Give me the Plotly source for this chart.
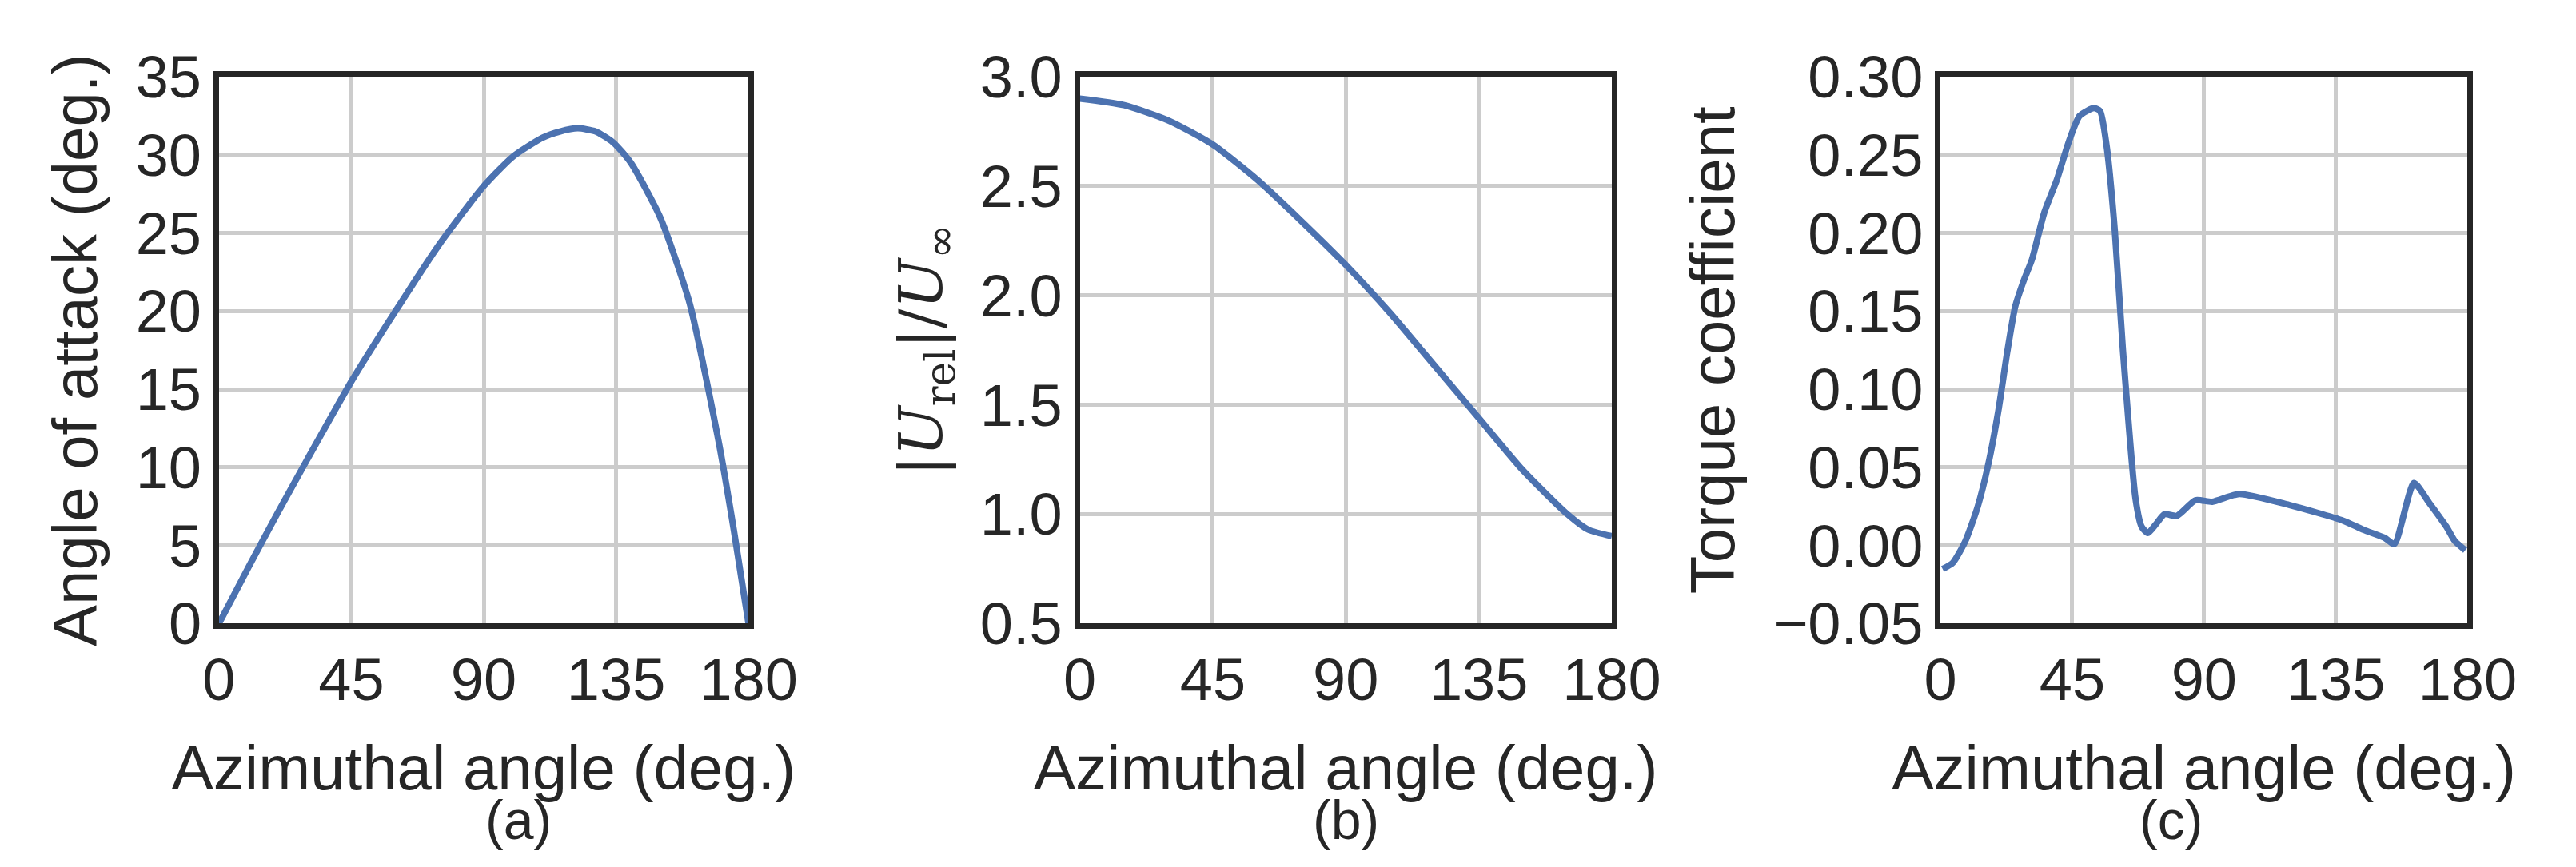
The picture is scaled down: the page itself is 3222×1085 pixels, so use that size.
import plotly.graph_objects as go
from plotly.subplots import make_subplots

# (a) angle of attack
az_a = [0, 10, 20, 30, 45, 60, 75, 90, 100, 110, 116, 122, 128, 134, 140, 150, 160, 170, 175, 180]
aoa = [0, 3.6, 7.1, 10.5, 15.5, 20.0, 24.3, 28.0, 29.9, 31.1, 31.5, 31.7, 31.5, 30.8, 29.5, 26.0, 20.5, 11.5, 6.0, 0]

# (b) relative velocity
az_b = [0, 15, 30, 45, 60, 75, 90, 105, 120, 135, 150, 165, 172, 180]
urel = [2.9, 2.87, 2.8, 2.69, 2.53, 2.34, 2.14, 1.92, 1.68, 1.44, 1.2, 1.0, 0.93, 0.9]

# (c) torque coefficient
az_c = [0.7, 4.2, 8.5, 12.7, 16.3, 19.8, 22.7, 25.5, 28.3, 31.2, 35.4, 39.7, 43.9, 47.5,
        52.4, 54.5, 56.7, 59.5, 62.3, 66.6, 68.7, 70.8, 73.7, 76.5, 80.7, 87.1, 92.8,
        102, 119, 137.4, 144.5, 151.6, 155, 161.7, 167, 172.8, 175.6, 179.2]
cq = [-0.015, -0.011, 0.003, 0.025, 0.052, 0.087, 0.123, 0.153, 0.169, 0.183, 0.213, 0.234,
      0.259, 0.275, 0.280, 0.278, 0.256, 0.202, 0.125, 0.030, 0.012, 0.008, 0.014, 0.020,
      0.019, 0.029, 0.028, 0.033, 0.026, 0.016, 0.010, 0.005, 0.001, 0.040, 0.027, 0.012,
      0.003, -0.003]

xticks = [0, 45, 90, 135, 180]
blue = '#4c72b0'
dark = '#262626'
font = 'Liberation Sans, Arial, sans-serif'

fig = make_subplots(rows=1, cols=3)
for i, (x, y) in enumerate([(az_a, aoa), (az_b, urel), (az_c, cq)]):
    fig.add_trace(go.Scatter(x=x, y=y, mode='lines', line=dict(color=blue, width=8),
                             line_shape='spline', line_smoothing=0.6, showlegend=False), row=1, col=i + 1)

xdoms = [(0.078, 0.289), (0.421, 0.633), (0.764, 0.974)]
ydom = (0.27, 0.953)
axstyle = dict(showline=True, mirror=True, linecolor=dark, linewidth=7, gridcolor='#cccccc',
               gridwidth=5, zeroline=False, ticks='', tickfont=dict(size=74, color=dark, family=font))

for i, d in enumerate(xdoms):
    fig.update_xaxes(domain=d, range=[0, 180], tickvals=xticks,
                     title=dict(text='Azimuthal angle (deg.)', font=dict(size=78, color=dark, family=font), standoff=45),
                     row=1, col=i + 1, **axstyle)
    fig.add_annotation(text='(%s)' % 'abc'[i], x=(d[0] + d[1]) / 2, y=-0.015, xref='paper', yref='paper',
                       yanchor='bottom', showarrow=False, font=dict(size=68, color=dark, family=font))

ytitle = dict(font=dict(size=78, color=dark, family=font), standoff=25)
fig.update_yaxes(domain=ydom, range=[0, 35], dtick=5,
                 title=dict(text='Angle of attack (deg.)', **ytitle), row=1, col=1, **axstyle)
fig.update_yaxes(domain=ydom, range=[0.5, 3.0], dtick=0.5, tickformat='.1f',
                 title=dict(text='|<i>U</i><sub>rel</sub>|/<i>U</i><sub>∞</sub>',
                            font=dict(size=74, color=dark, family='DejaVu Serif, serif'), standoff=25),
                 row=1, col=2, **axstyle)
fig.update_yaxes(domain=ydom, range=[-0.05, 0.30], dtick=0.05, tickformat='.2f',
                 title=dict(text='Torque coefficient', **ytitle), row=1, col=3, **axstyle)

fig.update_layout(width=3222, height=1085, margin=dict(l=0, r=0, t=0, b=0),
                  paper_bgcolor='white', plot_bgcolor='white')
fig.write_html("out.html")
